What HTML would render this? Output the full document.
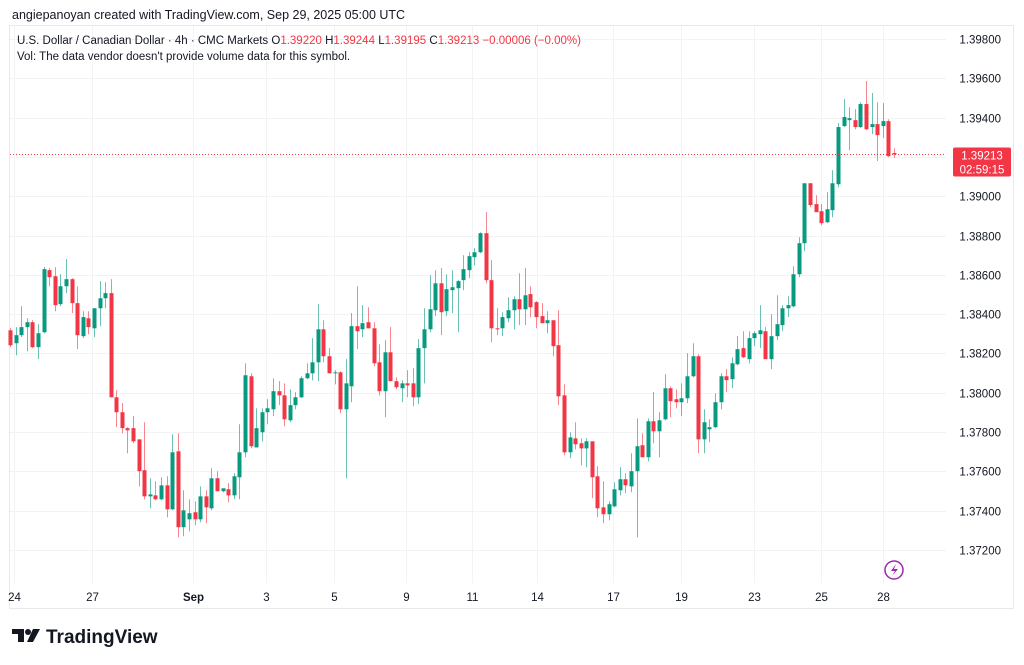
<!DOCTYPE html>
<html><head><meta charset="utf-8"><style>
body{margin:0;width:1024px;height:665px;background:#fff;overflow:hidden;font-family:"Liberation Sans",sans-serif}
svg{display:block}
</style></head><body>
<svg id="chart" width="1024" height="665">
<text x="12" y="19" font-size="12.5" fill="#131722">angiepanoyan created with TradingView.com, Sep 29, 2025 05:00 UTC</text>
<rect x="9.5" y="25.5" width="1004" height="583" fill="none" stroke="#e8e9ec"/>
<g id="grid"></g>
<g id="candles"></g>
<line id="lastline" x1="10" x2="946" stroke="#f23645" stroke-dasharray="1,2"/>
<g id="yaxis"></g>
<g id="xaxis"></g>
<text x="17" y="44" font-size="11.5" fill="#131722">U.S. Dollar / Canadian Dollar · 4h · CMC Markets <tspan fill="#131722">O</tspan><tspan fill="#f23645">1.39220</tspan> <tspan>H</tspan><tspan fill="#f23645">1.39244</tspan> <tspan>L</tspan><tspan fill="#f23645">1.39195</tspan> <tspan>C</tspan><tspan fill="#f23645">1.39213</tspan> <tspan fill="#f23645">−0.00006 (−0.00%)</tspan></text>
<text x="17" y="60" font-size="11.5" fill="#131722">Vol: The data vendor doesn't provide volume data for this symbol.</text>
<g>
<rect id="plbox" x="953" y="147" width="58" height="29" rx="2" fill="#f23645"/>
<text id="pltext" x="982" y="159" font-size="11.5" fill="#fff" text-anchor="middle">1.39213</text>
<text x="982" y="173" font-size="11.5" fill="#fff" text-anchor="middle">02:59:15</text>
</g>
<g><circle cx="894" cy="570" r="9" fill="#fff" stroke="#9c27b0" stroke-width="1.5"/><path d="M896 564 L891 571 L895 571 L892 576 L898 569 L894 569 Z" fill="#9c27b0"/></g>
<g>
<path d="M12 629 H24 V642 H18 V634 H12 Z" fill="#131722"/><circle cx="28" cy="632" r="3" fill="#131722"/><path d="M33 629 H40 L33 642 H27 Z" fill="#131722"/>
<text x="46" y="643" font-size="19" font-weight="bold" fill="#131722">TradingView</text>
</g>
</svg>
<script>
const opens=[1.38318,1.38252,1.38293,1.38334,1.38359,1.38232,1.38308,1.38624,1.38593,1.38451,1.38542,1.38578,1.38456,1.38288,1.38379,1.38328,1.38430,1.38481,1.38507,1.37977,1.37901,1.37820,1.37820,1.37763,1.37606,1.37473,1.37478,1.37458,1.37529,1.37407,1.37702,1.37316,1.37356,1.37392,1.37356,1.37473,1.37412,1.37565,1.37499,1.37509,1.37478,1.37570,1.37697,1.38084,1.37722,1.37799,1.37901,1.37916,1.38008,1.37987,1.37860,1.37937,1.37977,1.38074,1.38099,1.38155,1.38323,1.38186,1.38099,1.38104,1.37916,1.38033,1.38339,1.38323,1.38359,1.38328,1.38155,1.38008,1.38206,1.38059,1.38023,1.38048,1.38048,1.37977,1.38227,1.38323,1.38420,1.38557,1.38415,1.38522,1.38532,1.38573,1.38624,1.38690,1.38715,1.38812,1.38573,1.38328,1.38328,1.38379,1.38420,1.38476,1.38425,1.38502,1.38461,1.38390,1.38354,1.38369,1.38242,1.37987,1.37697,1.37768,1.37743,1.37717,1.37753,1.37575,1.37417,1.37382,1.37422,1.37504,1.37560,1.37524,1.37601,1.37733,1.37672,1.37855,1.37804,1.37865,1.38023,1.37967,1.37952,1.37972,1.38084,1.38186,1.37763,1.37814,1.37825,1.37952,1.38084,1.38069,1.38145,1.38227,1.38171,1.38278,1.38298,1.38313,1.38171,1.38288,1.38344,1.38430,1.38440,1.38603,1.38761,1.39066,1.38960,1.38924,1.38868,1.38929,1.39061,1.39357,1.39387,1.39387,1.39352,1.39469,1.39352,1.39367,1.39357,1.39382,1.39220];
const highs=[1.38328,1.38334,1.38440,1.38379,1.38369,1.38349,1.38639,1.38634,1.38639,1.38603,1.38680,1.38583,1.38542,1.38415,1.38415,1.38334,1.38568,1.38563,1.38578,1.38013,1.37947,1.37825,1.37881,1.37763,1.37850,1.37565,1.37550,1.37570,1.37575,1.37789,1.37794,1.37504,1.37458,1.37448,1.37524,1.37504,1.37616,1.37601,1.37504,1.37540,1.37591,1.37840,1.38150,1.38099,1.37921,1.37921,1.37967,1.38074,1.38059,1.38048,1.38018,1.38003,1.38084,1.38150,1.38278,1.38451,1.38369,1.38227,1.38115,1.38110,1.38171,1.38405,1.38542,1.38446,1.38435,1.38359,1.38247,1.38267,1.38334,1.38079,1.38064,1.38115,1.38125,1.38273,1.38430,1.38598,1.38624,1.38634,1.38603,1.38624,1.38573,1.38700,1.38715,1.38736,1.38817,1.38919,1.38675,1.38430,1.38410,1.38486,1.38491,1.38608,1.38634,1.38542,1.38466,1.38456,1.38415,1.38369,1.38420,1.38043,1.37799,1.37850,1.37768,1.37768,1.37753,1.37626,1.37550,1.37448,1.37545,1.37621,1.37591,1.37692,1.37870,1.37794,1.37870,1.38003,1.37901,1.38094,1.38033,1.38018,1.38048,1.38201,1.38252,1.38196,1.37916,1.37865,1.37997,1.38099,1.38120,1.38181,1.38288,1.38313,1.38313,1.38313,1.38446,1.38334,1.38400,1.38496,1.38446,1.38491,1.38644,1.38792,1.39066,1.39066,1.39005,1.38960,1.39021,1.39133,1.39372,1.39494,1.39453,1.39443,1.39479,1.39586,1.39525,1.39479,1.39474,1.39392,1.39244];
const lows=[1.38232,1.38191,1.38283,1.38211,1.38227,1.38171,1.38303,1.38542,1.38415,1.38440,1.38507,1.38405,1.38222,1.38278,1.38298,1.38283,1.38339,1.38430,1.37977,1.37825,1.37794,1.37692,1.37743,1.37524,1.37458,1.37412,1.37453,1.37453,1.37366,1.37402,1.37265,1.37270,1.37295,1.37326,1.37341,1.37336,1.37402,1.37499,1.37494,1.37443,1.37458,1.37458,1.37672,1.37717,1.37722,1.37753,1.37840,1.37881,1.37937,1.37830,1.37850,1.37916,1.37972,1.38069,1.38064,1.38059,1.38155,1.38099,1.38043,1.37896,1.37565,1.37952,1.38222,1.38283,1.38328,1.38135,1.37987,1.37876,1.38059,1.38018,1.37952,1.37977,1.37932,1.37942,1.38048,1.38308,1.38390,1.38293,1.38390,1.38405,1.38308,1.38522,1.38583,1.38649,1.38710,1.38557,1.38257,1.38293,1.38288,1.38359,1.38323,1.38344,1.38344,1.38385,1.38328,1.38354,1.38303,1.38186,1.37937,1.37682,1.37667,1.37712,1.37631,1.37621,1.37463,1.37366,1.37336,1.37351,1.37417,1.37478,1.37489,1.37494,1.37265,1.37672,1.37651,1.37743,1.37672,1.37860,1.37876,1.37921,1.37881,1.37947,1.38079,1.37692,1.37692,1.37748,1.37820,1.37916,1.38003,1.38023,1.38140,1.38176,1.38150,1.38237,1.38227,1.38171,1.38120,1.38267,1.38313,1.38385,1.38435,1.38588,1.38720,1.38944,1.38919,1.38853,1.38863,1.38893,1.39046,1.39352,1.39234,1.39341,1.39347,1.39336,1.39316,1.39179,1.39296,1.39199,1.39195];
const closes=[1.38242,1.38293,1.38334,1.38359,1.38232,1.38303,1.38629,1.38588,1.38446,1.38542,1.38578,1.38456,1.38293,1.38385,1.38334,1.38430,1.38481,1.38507,1.37977,1.37901,1.37820,1.37809,1.37753,1.37601,1.37473,1.37483,1.37458,1.37529,1.37407,1.37697,1.37316,1.37402,1.37387,1.37356,1.37473,1.37417,1.37565,1.37499,1.37514,1.37478,1.37575,1.37697,1.38089,1.37728,1.37820,1.37901,1.37921,1.38008,1.37987,1.37865,1.37937,1.37977,1.38074,1.38099,1.38155,1.38323,1.38186,1.38099,1.38104,1.37916,1.38048,1.38339,1.38313,1.38354,1.38328,1.38150,1.38008,1.38206,1.38059,1.38028,1.38048,1.38038,1.37977,1.38227,1.38323,1.38425,1.38557,1.38410,1.38527,1.38537,1.38568,1.38629,1.38695,1.38715,1.38812,1.38573,1.38328,1.38323,1.38385,1.38420,1.38476,1.38425,1.38496,1.38435,1.38385,1.38354,1.38369,1.38237,1.37982,1.37697,1.37773,1.37738,1.37717,1.37753,1.37570,1.37412,1.37382,1.37433,1.37509,1.37560,1.37529,1.37601,1.37728,1.37672,1.37855,1.37804,1.37860,1.38023,1.37957,1.37952,1.37972,1.38084,1.38186,1.37763,1.37850,1.37825,1.37952,1.38084,1.38064,1.38150,1.38222,1.38181,1.38278,1.38303,1.38318,1.38171,1.38288,1.38349,1.38430,1.38446,1.38603,1.38761,1.39066,1.38955,1.38919,1.38863,1.38934,1.39066,1.39352,1.39403,1.39397,1.39352,1.39469,1.39341,1.39367,1.39311,1.39382,1.39204,1.39213];
const priceTicks=[1.398,1.396,1.394,1.392,1.390,1.388,1.386,1.384,1.382,1.380,1.378,1.376,1.374,1.372];
const timeLabels=["24","27","Sep","3","5","9","11","14","17","19","23","25","28"];
const timeLabelIdx=[0.7,14.6,32.7,45.7,57.9,70.8,82.6,94.2,107.8,120,133,145,156];

const NS="http://www.w3.org/2000/svg";
const X0=10,STEP=5.595,PLOT_R=946,PLOT_T=26,PLOT_B=583;
function xs(i){return X0+i*STEP;}
function ys(p){return 39+(1.398-p)*511/0.026;}
function mk(tag,attrs,parent){const e=document.createElementNS(NS,tag);for(const k in attrs)e.setAttribute(k,attrs[k]);parent.appendChild(e);return e;}
const grid=document.getElementById('grid'),cg=document.getElementById('candles'),ya=document.getElementById('yaxis'),xa=document.getElementById('xaxis');
priceTicks.forEach(p=>{
  const y=Math.round(ys(p))+0.5;
  const l=mk('line',{x1:10,x2:PLOT_R,y1:y,y2:y,stroke:'#f2f3f5'},grid);
  
  
  const t=mk('text',{x:1001,y:y+4,'font-size':'11.5',fill:'#131722','text-anchor':'end'},ya);
  t.textContent=p.toFixed(5);
  
  
});
timeLabels.forEach((s,k)=>{
  const x=Math.round(xs(timeLabelIdx[k]))+0.5;
  const l=mk('line',{x1:x,x2:x,y1:PLOT_T,y2:PLOT_B,stroke:'#f2f3f5'},grid);
  
  
  const t=mk('text',{x:x,y:601,'font-size':'11.5',fill:'#131722','text-anchor':'middle','font-weight':s==='Sep'?'bold':'normal'},xa);
  t.textContent=s;
  
  
});
for(let i=0;i<opens.length;i++){
  const up=closes[i]>=opens[i],col=up?'#089981':'#f23645';
  const x=Math.round(xs(i));
  const g=mk('g',{},cg);
  
  
  mk('line',{x1:x+0.5,x2:x+0.5,y1:ys(highs[i]),y2:ys(lows[i]),stroke:col,'stroke-opacity':0.6},g);
  const top=ys(Math.max(opens[i],closes[i])),bot=ys(Math.min(opens[i],closes[i]));
  mk('rect',{x:x-1.5,y:top,width:4,height:Math.max(1,bot-top),fill:col},g);
}
const last=closes[closes.length-1],ly=Math.round(ys(last))+0.5;
const ll=document.getElementById('lastline');ll.setAttribute('y1',ly);ll.setAttribute('y2',ly);
document.getElementById('plbox').setAttribute('y',ly-7);
document.getElementById('pltext').setAttribute('y',ly+5);
document.getElementById('pltext').nextElementSibling.setAttribute('y',ly+19);
document.getElementById('pltext').textContent=last.toFixed(5);
</script>
</body></html>
